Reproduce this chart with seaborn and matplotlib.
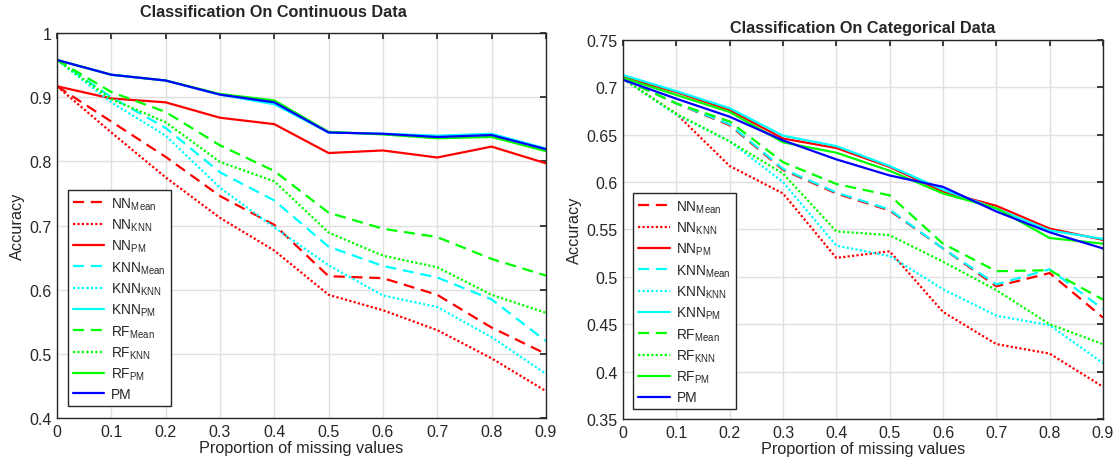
import numpy as np
import pandas as pd
import seaborn as sns
import matplotlib.pyplot as plt
from matplotlib.ticker import FuncFormatter, MultipleLocator

# proportion of missing values
props = [0.0, 0.1, 0.2, 0.3, 0.4, 0.5, 0.6, 0.7, 0.8, 0.9]

# accuracy on continuous data (left panel)
cont_nn_mean = [0.917, 0.862, 0.807, 0.746, 0.701, 0.621, 0.618, 0.592, 0.541, 0.500]
cont_nn_knn = [0.917, 0.845, 0.775, 0.712, 0.661, 0.592, 0.568, 0.537, 0.493, 0.442]
cont_nn_pm = [0.917, 0.898, 0.892, 0.868, 0.858, 0.813, 0.817, 0.806, 0.823, 0.797]
cont_knn_mean = [0.958, 0.900, 0.852, 0.783, 0.739, 0.667, 0.637, 0.619, 0.585, 0.520]
cont_knn_knn = [0.958, 0.892, 0.840, 0.759, 0.697, 0.638, 0.591, 0.573, 0.526, 0.469]
cont_knn_pm = [0.958, 0.935, 0.926, 0.904, 0.889, 0.845, 0.843, 0.840, 0.843, 0.820]
cont_rf_mean = [0.958, 0.908, 0.877, 0.825, 0.785, 0.720, 0.695, 0.682, 0.648, 0.622]
cont_rf_knn = [0.958, 0.897, 0.861, 0.799, 0.769, 0.689, 0.653, 0.635, 0.592, 0.564]
cont_rf_pm = [0.958, 0.935, 0.926, 0.905, 0.895, 0.846, 0.842, 0.836, 0.838, 0.816]
cont_pm = [0.958, 0.935, 0.926, 0.904, 0.892, 0.845, 0.843, 0.838, 0.841, 0.819]

# accuracy on categorical data (right panel)
cat_nn_mean = [0.709, 0.683, 0.660, 0.613, 0.588, 0.570, 0.530, 0.490, 0.504, 0.457]
cat_nn_knn = [0.709, 0.672, 0.617, 0.588, 0.520, 0.527, 0.463, 0.429, 0.419, 0.384]
cat_nn_pm = [0.711, 0.695, 0.676, 0.646, 0.636, 0.616, 0.590, 0.575, 0.551, 0.539]
cat_knn_mean = [0.709, 0.683, 0.661, 0.614, 0.589, 0.571, 0.530, 0.492, 0.508, 0.466]
cat_knn_knn = [0.709, 0.671, 0.643, 0.600, 0.533, 0.522, 0.487, 0.459, 0.449, 0.409]
cat_knn_pm = [0.713, 0.696, 0.678, 0.649, 0.638, 0.617, 0.592, 0.572, 0.549, 0.540]
cat_rf_mean = [0.709, 0.683, 0.664, 0.621, 0.598, 0.586, 0.535, 0.506, 0.507, 0.476]
cat_rf_knn = [0.709, 0.672, 0.643, 0.609, 0.548, 0.544, 0.516, 0.486, 0.450, 0.429]
cat_rf_pm = [0.710, 0.692, 0.674, 0.642, 0.631, 0.612, 0.588, 0.5725, 0.541, 0.535]
cat_pm = [0.708, 0.688, 0.669, 0.644, 0.624, 0.607, 0.595, 0.569, 0.547, 0.530]

labels = [r'NN$_{\mathrm{Mean}}$', r'NN$_{\mathrm{KNN}}$', r'NN$_{\mathrm{PM}}$',
          r'KNN$_{\mathrm{Mean}}$', r'KNN$_{\mathrm{KNN}}$', r'KNN$_{\mathrm{PM}}$',
          r'RF$_{\mathrm{Mean}}$', r'RF$_{\mathrm{KNN}}$', r'RF$_{\mathrm{PM}}$', 'PM']
colors = ['#ff0000'] * 3 + ['#00ffff'] * 3 + ['#00ff00'] * 3 + ['#0000ff']
styles = [(0, (5, 3)), (0, (1, 1)), '-'] * 3 + ['-']

cont_series = [cont_nn_mean, cont_nn_knn, cont_nn_pm, cont_knn_mean, cont_knn_knn,
               cont_knn_pm, cont_rf_mean, cont_rf_knn, cont_rf_pm, cont_pm]
cat_series = [cat_nn_mean, cat_nn_knn, cat_nn_pm, cat_knn_mean, cat_knn_knn,
              cat_knn_pm, cat_rf_mean, cat_rf_knn, cat_rf_pm, cat_pm]

sns.set_theme(style='white')
plt.rcParams['font.family'] = ['Liberation Sans', 'DejaVu Sans']
plt.rcParams['mathtext.fontset'] = 'custom'
plt.rcParams['mathtext.rm'] = 'Liberation Sans'
plt.rcParams['mathtext.it'] = 'Liberation Sans:italic'

fig = plt.figure(figsize=(11.14, 4.6), dpi=100)
ax1 = fig.add_axes([0.0512, 0.0891, 0.4388, 0.8369])
ax2 = fig.add_axes([0.5593, 0.0870, 0.4308, 0.8239])


def draw(ax, series, title, ylim, ystep, leg_anchor, title_x, title_pad):
    for vals, lab, col, ls in zip(series, labels, colors, styles):
        sns.lineplot(x=props, y=vals, ax=ax, color=col, linestyle=ls,
                     linewidth=1.6, label=lab)
    ax.set_xlim(0, 0.9)
    ax.set_ylim(*ylim)
    ax.xaxis.set_major_locator(MultipleLocator(0.1))
    ax.yaxis.set_major_locator(MultipleLocator(ystep))
    fmt = FuncFormatter(lambda v, p: '%g' % round(v, 3))
    ax.xaxis.set_major_formatter(fmt)
    ax.yaxis.set_major_formatter(fmt)
    ax.grid(True, color='#e0e0e0', linewidth=1.0)
    ax.set_axisbelow(True)
    ax.tick_params(direction='in', top=True, right=True, length=4,
                   labelsize=11.5, colors='#262626', pad=4)
    for s in ax.spines.values():
        s.set_color('#262626')
        s.set_linewidth(1.0)
    ax.set_title(title, fontsize=11.7, fontweight='bold', pad=title_pad, x=title_x)
    ax.set_xlabel('Proportion of missing values', fontsize=11.7, labelpad=1)
    ax.set_ylabel('Accuracy', fontsize=11.7, labelpad=3)
    leg = ax.legend(loc='lower left', bbox_to_anchor=leg_anchor, borderaxespad=0,
                    fontsize=9.9, handlelength=2.3, handletextpad=0.5,
                    labelspacing=0.36, fancybox=False, framealpha=1,
                    borderpad=0.35)
    leg.get_frame().set_edgecolor('#262626')
    leg.get_frame().set_linewidth(1.0)


draw(ax1, cont_series, 'Classification On Continuous Data', (0.4, 1.0), 0.1,
     (0.0225, 0.031), 0.443, 12)
draw(ax2, cat_series, 'Classification On Categorical Data', (0.35, 0.75), 0.05,
     (0.021, 0.026), 0.5, 6)

fig.savefig('out.png', dpi=100)
